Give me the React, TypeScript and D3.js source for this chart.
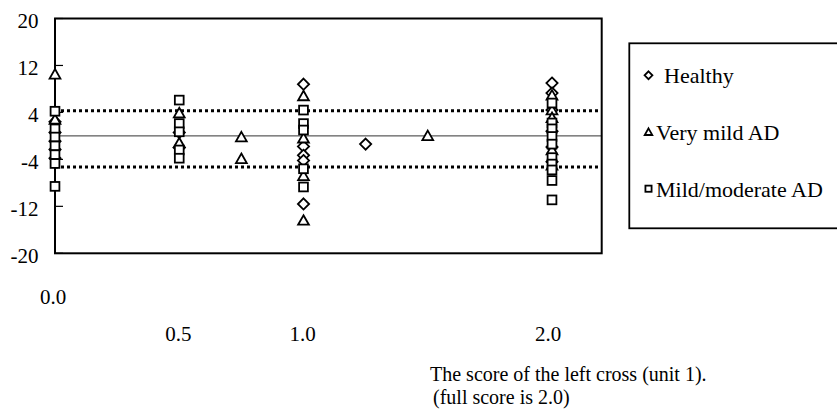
import React from "react";
import * as d3 from "d3";

const xDomain: [number, number] = [0, 2.2];
const yDomain: [number, number] = [-20, 20];
const yTicks = [20, 12, 4, -4, -12, -20];
const xTickUpper = [0.0];
const xTickLower = [0.5, 1.0, 2.0];
const limitLines = [4.3, -5.3];

const healthy: [number, number][] = [
  [0, 2.4], [0, 0.6], [0, -0.9], [0, -2.3], [0, -3.8],
  [0.5, 0.6], [0.5, -2.0],
  [1.0, 8.8], [1.0, -1.8], [1.0, -3.3], [1.0, -4.2], [1.0, -11.6],
  [1.25, -1.4],
  [2.0, 9.0], [2.0, 7.3], [2.0, 4.4], [2.0, 0.8], [2.0, -1.9], [2.0, -4.4],
];
const veryMild: [number, number][] = [
  [0, 10.5], [0, 2.8],
  [0.5, 3.9], [0.5, -1.2],
  [0.75, -0.2], [0.75, -3.9],
  [1.0, 6.8], [1.0, -0.4], [1.0, -6.8], [1.0, -14.4],
  [1.5, 0.0],
  [2.0, 6.9], [2.0, 4.4], [2.0, 3.1], [2.0, -2.4], [2.0, -5.0],
];
const mildModerate: [number, number][] = [
  [0, 4.2], [0, 1.2], [0, -0.2], [0, -1.7], [0, -3.2], [0, -4.7], [0, -8.6],
  [0.5, 6.1], [0.5, 2.1], [0.5, 0.7], [0.5, -2.4], [0.5, -3.8],
  [1.0, 4.4], [1.0, 2.1], [1.0, 1.0], [1.0, -5.6], [1.0, -8.7],
  [2.0, 5.6], [2.0, 2.2], [2.0, 1.2], [2.0, -0.1], [2.0, -1.4], [2.0, -3.7],
  [2.0, -4.8], [2.0, -5.8], [2.0, -7.6], [2.0, -10.9],
];
const legendLabels = ["Healthy", "Very mild AD", "Mild/moderate AD"];
const titleLines = ["The score of the left cross (unit 1).", " (full score is 2.0)"];

const W = 837, H = 411;
const L = 55, R = 601.7, T = 18.5, B = 253.3;
const FONT = "Liberation Serif";
const ts = (size: number): React.CSSProperties => ({ fontFamily: FONT, fontSize: size, whiteSpace: "pre" });

const x = d3.scaleLinear().domain(xDomain).range([L, R]);
const y = d3.scaleLinear().domain(yDomain).range([B, T]);

type Shape = "diamond" | "triangle" | "square";

function marker(shape: Shape, cx: number, cy: number, s = 1, key?: string) {
  const common = { fill: "#fff", stroke: "#000", strokeWidth: 1.8 };
  if (shape === "diamond") {
    const r = 5.6 * s;
    return <path key={key} d={`M${cx},${cy - r}L${cx + r},${cy}L${cx},${cy + r}L${cx - r},${cy}Z`} {...common} />;
  }
  if (shape === "triangle") {
    const w = 5.4 * s, h = 9.5 * s;
    return <path key={key} d={`M${cx},${cy - h * 0.55}L${cx + w},${cy + h * 0.45}L${cx - w},${cy + h * 0.45}Z`} {...common} />;
  }
  const a = 4.4 * s;
  return <rect key={key} x={cx - a} y={cy - a} width={2 * a} height={2 * a} {...common} />;
}

const series: { shape: Shape; data: [number, number][] }[] = [
  { shape: "diamond", data: healthy },
  { shape: "triangle", data: veryMild },
  { shape: "square", data: mildModerate },
];

export default function App() {
  return (
    <svg width={W} height={H} style={{ position: "absolute", left: 0, top: 0, background: "#fff" }}>
      <line x1={L} x2={R} y1={y(0)} y2={y(0)} stroke="#333" strokeWidth={1} />
      {limitLines.map((v, i) => (
        <line key={i} x1={L} x2={R} y1={y(v)} y2={y(v)} stroke="#000" strokeWidth={3} strokeDasharray="3 3" />
      ))}
      {yTicks.map((t) => (
        <line key={t} x1={L} x2={L + 8} y1={y(t)} y2={y(t)} stroke="#000" strokeWidth={1.2} />
      ))}
      {yTicks.map((t) => (
        <text key={"l" + t} x={38.5} y={y(t) + 9.5} textAnchor="end" style={ts(21)}>{t}</text>
      ))}
      <rect x={L} y={T} width={R - L} height={B - T} fill="none" stroke="#000" strokeWidth={2} />
      {series.map((s, si) => (
        <g key={si}>{s.data.map((d, i) => marker(s.shape, x(d[0]), y(d[1]), 1, `${si}-${i}`))}</g>
      ))}
      {xTickUpper.map((v) => (
        <text key={"u" + v} x={x(v) - 2} y={304} textAnchor="middle" style={ts(21)}>{v.toFixed(1)}</text>
      ))}
      {xTickLower.map((v) => (
        <text key={"d" + v} x={x(v) - 1 - (v === 2 ? 3 : 0)} y={341} textAnchor="middle" style={ts(21)}>{v.toFixed(1)}</text>
      ))}
      <text x={430} y={381} style={ts(20)}>{titleLines[0]}</text>
      <text x={428} y={404} style={ts(20)}>{titleLines[1]}</text>
      <rect x={629.3} y={43.3} width={230} height={185} fill="#fff" stroke="#000" strokeWidth={1.8} />
      {legendLabels.map((lab, i) => {
        const by = [83.3, 140, 196.7][i];
        const shape = series[i].shape;
        return (
          <g key={lab}>
            {marker(shape, 648.5, by - 8, 0.7)}
            <text x={i === 0 ? 664 : 656} y={by} style={ts(22)}>{lab}</text>
          </g>
        );
      })}
    </svg>
  );
}
